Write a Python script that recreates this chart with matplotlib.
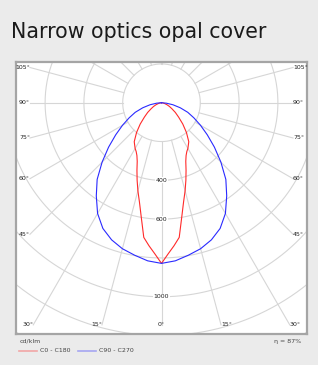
import numpy as np
import matplotlib.pyplot as plt

# luminous intensity, cd/klm (symmetric halves)
red_angles = [0, 2.5, 5, 7.5, 10, 12.5, 15, 17.5, 20, 22.5, 25, 27.5, 30, 33,
              35, 40, 45, 50, 55, 60, 65, 70, 75, 80, 85, 90]
red_values = [828, 780, 740, 700, 600, 525, 470, 418, 370, 327, 300, 283, 272, 255,
              245, 200, 155, 115, 87, 62, 45, 30, 18, 10, 4, 0]

blue_angles = [0, 5, 10, 15, 20, 25, 30, 35, 40, 45, 50, 55, 60, 65, 70, 75, 80, 85, 90]
blue_values = [828, 818, 798, 779, 752, 715, 659, 586, 516, 433, 356, 288, 232, 184,
               144, 100, 60, 25, 0]

rings = [200, 400, 600, 800, 1000, 1200, 1400]
ring_labels = [400, 600, 1000]
angle_labels = [0, 15, 30, 45, 60, 75, 90, 105]

title = "Narrow optics opal cover"
legend_names = ["C0 - C180", "C90 - C270"]
unit = "cd/klm"
efficiency = "η = 87%"

bg = "#ebebeb"
grid_c = "#d6d6d6"

fig = plt.figure(figsize=(3.18, 3.65), dpi=100, facecolor=bg)
fig.text(11 / 318, 1 - 32 / 365, title, fontsize=14.8, family="DejaVu Sans",
         color="#1a1a1a", va="center", ha="left")

ax = fig.add_axes([16 / 318, 31 / 365, 291 / 318, 272 / 365])
ax.set_facecolor("white")
ax.set_xlim(-750, 750)
ax.set_ylim(-1192, 210)
ax.set_aspect("equal")
ax.set_xticks([])
ax.set_yticks([])
for s in ax.spines.values():
    s.set_color("#a5a5a5")
    s.set_linewidth(1.6)

# rings
t = np.linspace(0, 2 * np.pi, 400)
for r in rings:
    ax.plot(r * np.sin(t), r * np.cos(t), color=grid_c, lw=0.8, zorder=1)

# spokes every 15 deg, ending on an inset box
x_in, y_bot, y_top = 678, -1145, 210


def spoke_end(dx, dy):
    ts = []
    if abs(dx) > 1e-9:
        ts.append(x_in / abs(dx))
    if dy < -1e-9:
        ts.append(y_bot / dy)
    if dy > 1e-9:
        ts.append(y_top / dy)
    return min(ts)


for a in range(0, 360, 15):
    dx, dy = np.sin(np.radians(a)), -np.cos(np.radians(a))
    tend = spoke_end(dx, dy)
    ax.plot([200 * dx, tend * dx], [200 * dy, tend * dy], color=grid_c, lw=0.8, zorder=1)

# angle labels at spoke ends
for a in angle_labels:
    for side in (-1, 1):
        if a == 0 and side == 1:
            continue
        dx, dy = side * np.sin(np.radians(a)), -np.cos(np.radians(a))
        tend = spoke_end(dx, dy)
        if a == 0:
            ha = "center"
        else:
            ha = "right" if side < 0 else "left"
        ax.text(tend * dx, tend * dy, f"{a}°", fontsize=4.5, ha=ha, va="center",
                color="#222222", zorder=4)

for v in ring_labels:
    ax.text(0, -v, str(v), fontsize=4.5, ha="center", va="center", color="#222222",
            zorder=4, bbox=dict(boxstyle="square,pad=0.1", fc="white", ec="none"))


# curves, both halves
def draw(angles, values, color):
    ang = np.radians(np.concatenate([-np.array(angles)[::-1], np.array(angles)[1:]]))
    val = np.concatenate([np.array(values)[::-1], np.array(values)[1:]])
    ax.plot(val * np.sin(ang), -val * np.cos(ang), color=color, lw=0.8, zorder=3)


draw(red_angles, red_values, "#ff2a2a")
draw(blue_angles, blue_values, "#2a2aff")

# legend below the chart
fig.text(20 / 318, 1 - 341 / 365, unit, fontsize=4.5, color="#444444", va="center")
fig.add_artist(plt.Line2D([19 / 318, 37 / 318], [1 - 351 / 365] * 2, color="#f2a6a6", lw=1.2))
fig.text(40 / 318, 1 - 351 / 365, legend_names[0], fontsize=4.5, color="#444444", va="center")
fig.add_artist(plt.Line2D([78 / 318, 96 / 318], [1 - 351 / 365] * 2, color="#a6a6f2", lw=1.2))
fig.text(99 / 318, 1 - 351 / 365, legend_names[1], fontsize=4.5, color="#444444", va="center")
fig.text(301 / 318, 1 - 342 / 365, efficiency, fontsize=4.5, color="#444444",
         va="center", ha="right")

fig.savefig("out.png", dpi=100, facecolor=bg)
